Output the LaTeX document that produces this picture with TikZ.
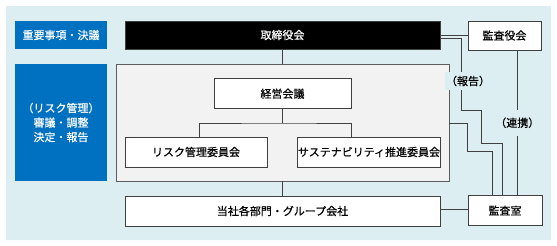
\documentclass[tikz,border=0pt]{standalone}
\usepackage{fontspec}
\setmainfont{Noto Sans CJK JP}[FakeBold=0.5]
\definecolor{bgblue}{HTML}{DDEEF3}
\definecolor{mblue}{HTML}{0070C0}
\definecolor{gfill}{HTML}{F2F2F2}
\definecolor{lcol}{HTML}{404040}
\begin{document}
\begin{tikzpicture}[x=1pt,y=-1pt,font=\fontsize{11}{14.5}\selectfont,
  box/.style={draw=lcol,line width=0.9pt,fill=white,inner sep=0pt,minimum height=30pt},
  bluebox/.style={fill=mblue,text=white,inner sep=0pt,align=center,minimum width=92pt},
  conn/.style={draw=lcol,line width=0.9pt},
  lbl/.style={fill=bgblue,inner xsep=1pt,inner ysep=4pt}]
\useasboundingbox (0,0) rectangle (557,246);
\fill[white] (0,0) rectangle (557,246);
\fill[bgblue] (6,6) rectangle (551,240);
% left blue labels
\node[bluebox,minimum height=28pt] (b1) at (61,35) {重要事項・決議};
\node[bluebox,minimum height=117pt] (b2) at (61,122.5) {（リスク管理）\\審議・調整\\決定・報告};
% grey region
\node[draw=lcol!85,line width=0.9pt,fill=gfill,minimum width=333pt,minimum height=117pt,inner sep=0pt] (grp) at (282.5,122.5) {};
% boxes
\node[box,fill=black,text=white,minimum width=315pt,minimum height=28pt] (board) at (282.5,35) {取締役会};
\node[box,minimum width=73pt,minimum height=29pt] (kyk) at (504.5,35.5) {監査役会};
\node[box,minimum width=137pt] (keiei) at (282.5,93.7) {経営会議};
\node[box,minimum width=142pt] (risk) at (196,152) {リスク管理委員会};
\node[box,minimum width=142pt] (sust) at (369,152) {サステナビリティ推進委員会};
\node[box,minimum width=315pt] (dept) at (282.5,211) {当社各部門・グループ会社};
\node[box,minimum width=74pt] (kansa) at (505,210.5) {監査室};
% connectors
\coordinate (j) at (282.5,123);
\draw[conn] (board.south) -- (grp.north);
\draw[conn] (keiei.south) -- (j);
\draw[conn] (risk.north -| 199.3,0) |- (j) -| (sust.north -| 351,0);
\draw[conn] (grp.south) -- (dept.north);
\draw[conn] (dept.east |- 0,209.5) -- (kansa.west |- 0,209.5);
\draw[conn] (board.east |- 0,35.7) -- (kyk.west |- 0,35.7);
\draw[conn] (board.east |- 0,38.5) -| (461.7,110) -| (481,143.5) -| (kansa.north -| 502.7,0);
\draw[conn] (grp.east |- 0,123.3) -| (467.7,151.7) -| (kansa.north -| 492.7,0);
\draw[conn] (kyk.south -| 517.3,0) -- (kansa.north -| 517.3,0)
  node[midway,lbl,inner ysep=8pt] (ren) {（連携）};
\node[lbl] (hok) at (468,81) {（報告）};
\end{tikzpicture}
\end{document}
